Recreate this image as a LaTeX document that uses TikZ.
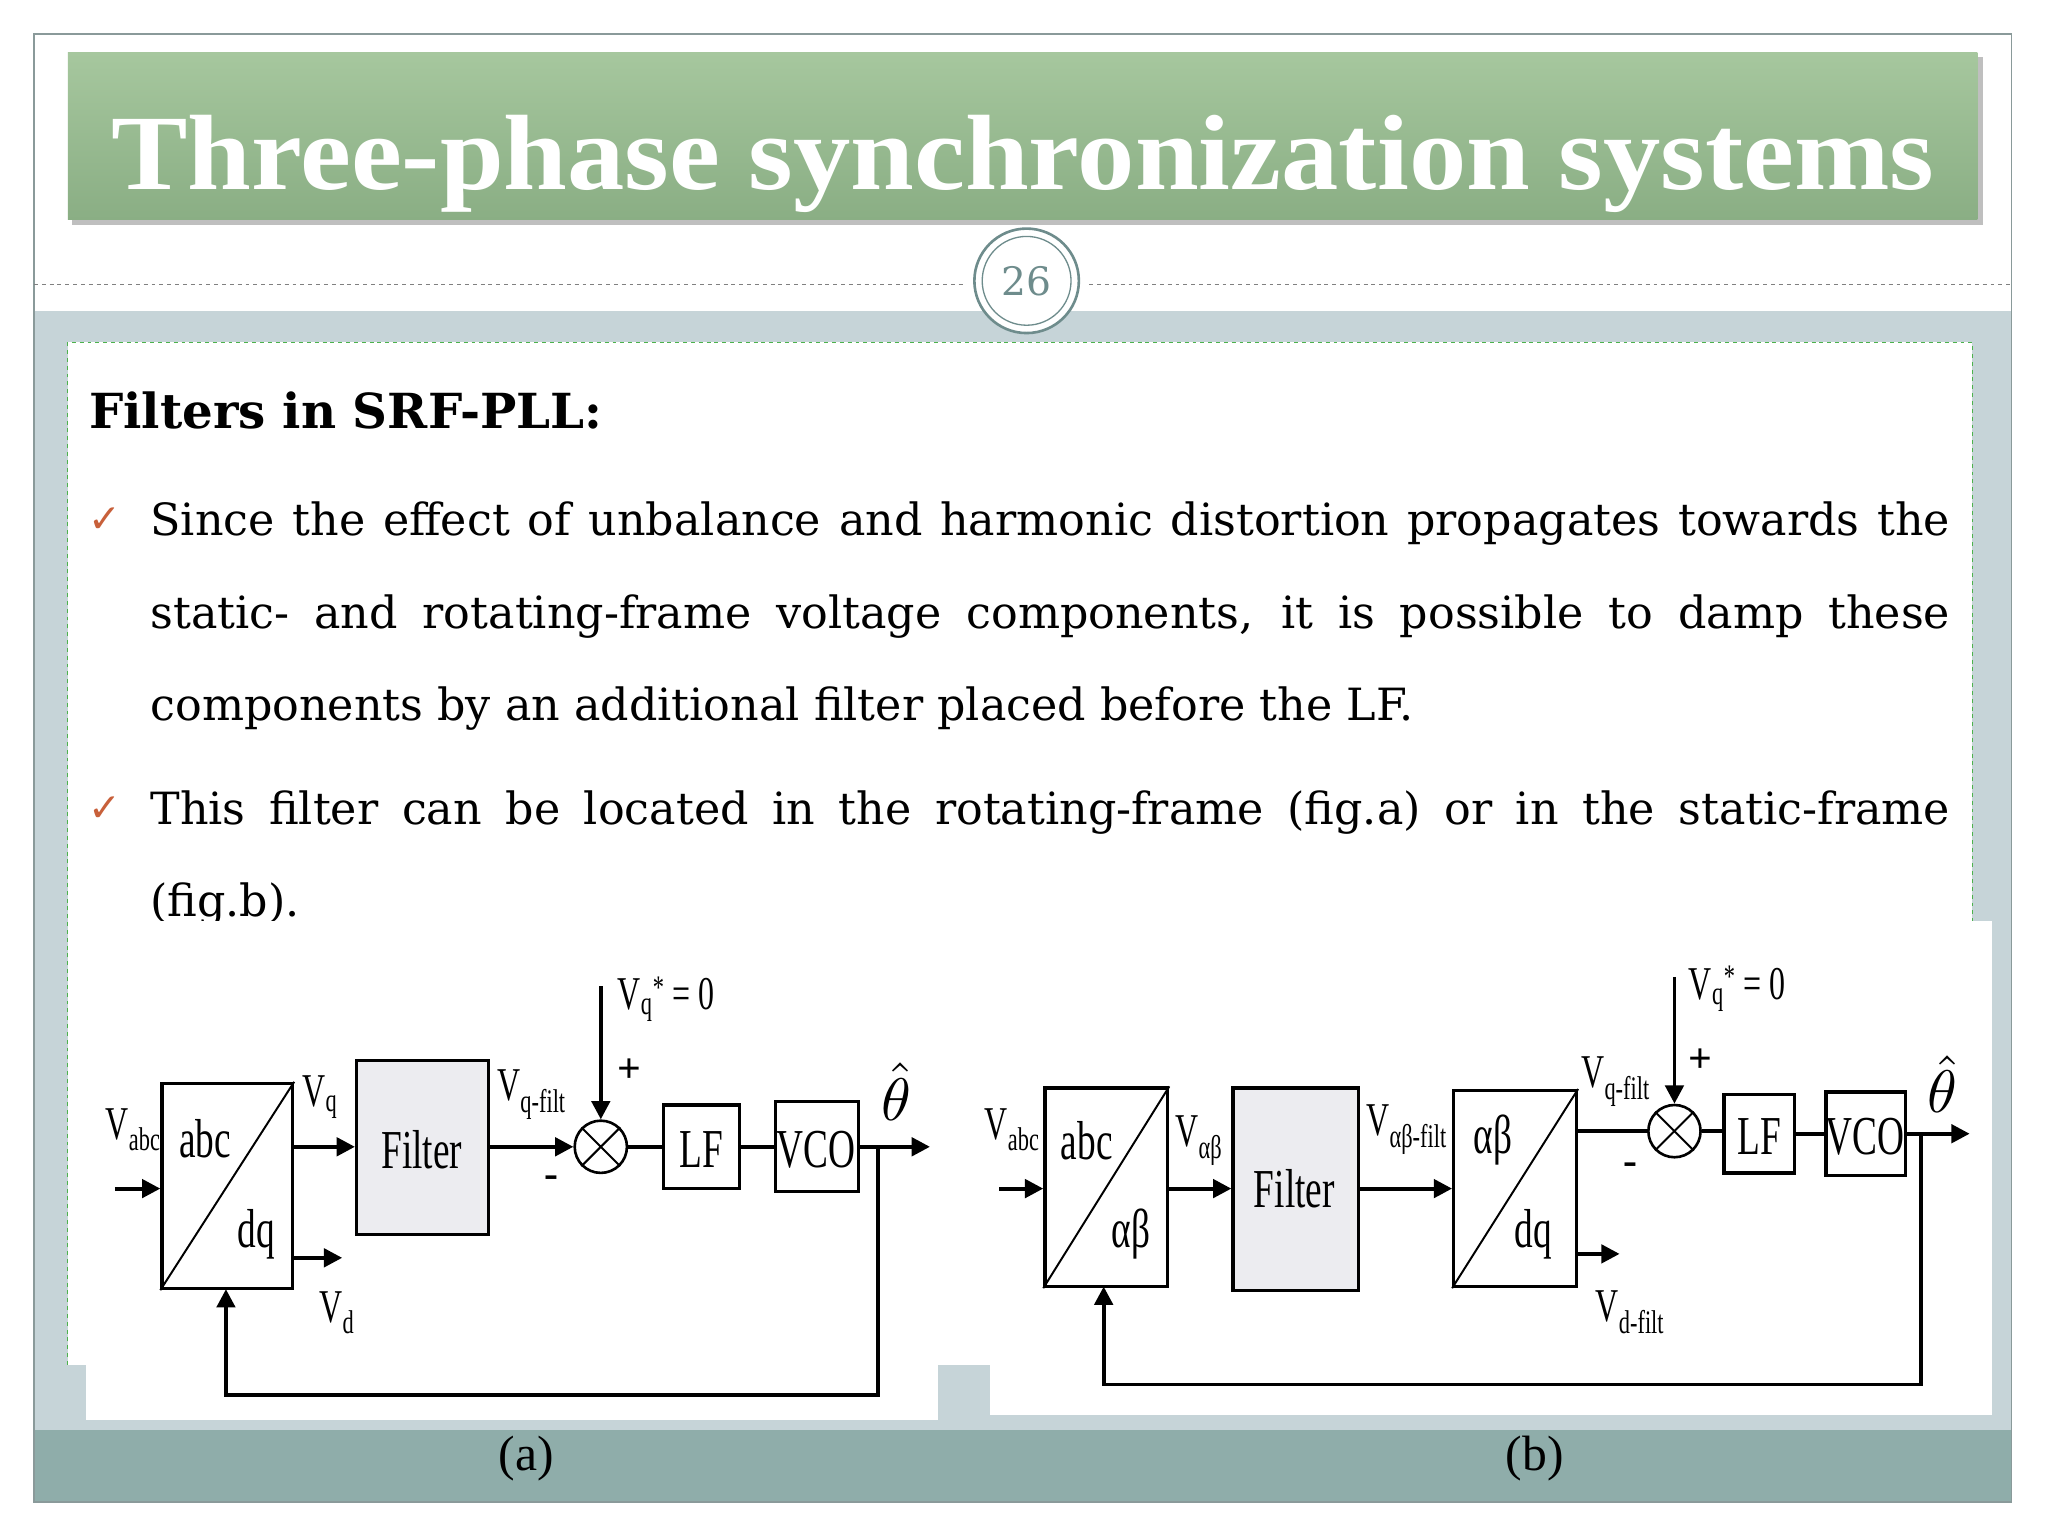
\documentclass[tikz,border=0pt]{standalone}
\usepackage{fontspec}
\usepackage{graphicx}
\setmainfont{Liberation Serif}
\newfontfamily\cond[FakeStretch=0.68]{Liberation Serif}
\newfontfamily\bodyf{DejaVu Serif}
\newfontfamily\titlef[FakeStretch=1.07]{Liberation Serif}
\usetikzlibrary{arrows.meta,calc}
\definecolor{band}{HTML}{C6D4D8}
\definecolor{bottomband}{HTML}{8FADAA}
\definecolor{frame}{HTML}{8A9A9A}
\definecolor{gtop}{HTML}{A6C79E}
\definecolor{gbot}{HTML}{8AAE84}
\definecolor{chk}{HTML}{C8603A}
\definecolor{numc}{HTML}{6E8C8C}
\definecolor{filt}{HTML}{ECECF0}
\tikzset{
  blk/.style={draw,line width=2.5pt,minimum width=#1,inner sep=0pt},
  dlab/.style={font=\cond\fontsize{42}{42}\selectfont,inner sep=0pt},
  slab/.style={font=\cond\fontsize{36}{36}\selectfont,inner sep=0pt},
  sig/.style={line width=3pt,-{Triangle[length=14pt,width=14pt]}},
  wire/.style={line width=3pt},
  bodytxt/.style={anchor=base west,inner sep=0pt,font=\bodyf\fontsize{34}{34}\selectfont},
  chkm/.style={anchor=base,inner sep=0pt,text=chk,font=\fontsize{30}{30}\selectfont},
  thlab/.style={inner sep=0pt}
}
\begin{document}
\begin{tikzpicture}[x=1pt,y=-1pt]
\useasboundingbox (0,0) rectangle (1568,1176);
\fill[white] (0,0) rectangle (1568,1176);
% frame and bands
\fill[band] (26,238) rectangle (1540,1150);
\fill[bottomband] (26,1095) rectangle (1540,1150);
\draw[frame,line width=1pt] (26,26) rectangle (1540,1150);
\fill[white] (52,262) rectangle (1510,1045);
\draw[green!40!gray,dashed,line width=0.8pt] (52,1045) -- (52,262) -- (1510,262) -- (1510,705);
\draw[gray,dashed,line width=0.8pt] (26,218) -- (738,218) (834,218) -- (1540,218);
% title banner
\fill[black!25] (55,44) rectangle (1518,172);
\shade[top color=gtop,bottom color=gbot] (52,40) rectangle (1514,168);
\node[anchor=base,text=white,inner sep=0pt,font=\titlef\bfseries\fontsize{82}{82}\selectfont] (title) at (783,145) {Three-phase synchronization systems};
% page number
\node[circle,draw=numc,line width=2pt,fill=white,minimum size=80pt,inner sep=0pt] (pgc) at (786,215) {};
\node[circle,draw=numc,line width=1pt,minimum size=68pt,inner sep=0pt,text=numc,font=\bodyf\fontsize{30}{30}\selectfont] (pg) at (786,215) {26};
% heading and bullets
\node[anchor=base west,inner sep=0pt,font=\bodyf\bfseries\fontsize{37}{37}\selectfont] (head) at (68,328) {Filters in SRF-PLL:};
\node[chkm] (c1) at (80,408) {\fontspec{DejaVu Sans}✓};
\node[chkm] (c2) at (80,629) {\fontspec{DejaVu Sans}✓};
\node[bodytxt] (l1) at (115,410) {\makebox[1378pt][s]{Since the effect of unbalance and harmonic distortion propagates towards the}};
\node[bodytxt] (l2) at (115,481) {\makebox[1378pt][s]{static- and rotating-frame voltage components, it is possible to damp these}};
\node[bodytxt] (l3) at (115,552) {components by an additional filter placed before the LF.};
\node[bodytxt] (l4) at (115,631) {\makebox[1378pt][s]{This filter can be located in the rotating-frame (fig.a) or in the static-frame}};
\node[bodytxt] (l5) at (115,702) {(fig.b).};
% image panels
\fill[white] (66,705) rectangle (718,1087);
\fill[white] (758,705) rectangle (1525,1083);
% ---------- diagram (a)
\node[blk=100pt,minimum height=157pt] (a1) at (174,908) {};
\draw[line width=1.5pt] (a1.south west) -- (a1.north east);
\node[dlab] at (157,872) {abc};
\node[dlab] at (196,945) {dq};
\node[blk=101pt,minimum height=133pt,fill=filt] (af) at (323.5,878.5) {};
\node[dlab] at (323,880) {Filter};
\node[circle,draw,line width=2pt,minimum size=40pt,inner sep=0pt] (as) at (460,878) {};
\draw[line width=1.5pt] (as.north west) -- (as.south east) (as.north east) -- (as.south west);
\node[blk=58pt,minimum height=64pt] (alf) at (537,878) {};
\node[dlab] at (537,880) {LF};
\node[blk=63pt,minimum height=69pt] (avco) at (625.5,878) {};
\node[dlab] at (625,880) {VCO};
\coordinate (ain) at (88,910);
\coordinate (aout) at (712,878);
\coordinate (aref) at (460,755);
\coordinate (avd) at (262,963);
\draw[sig] (ain) -- (ain -| a1.west);
\draw[sig] (a1.east |- 0,878) -- (af.west |- 0,878);
\draw[sig] (a1.east |- avd) -- (avd);
\draw[sig] (af.east |- as) -- (as.west);
\draw[sig] (aref) -- (as.north);
\draw[wire] (as.east) -- (alf.west);
\draw[wire] (alf.east) -- (avco.west);
\draw[sig] (avco.east) -- (aout);
\draw[sig] (672,878) -- (672,1068) -- (173,1068) -- (173,987);
\node[slab] at (102,865) {V\textsubscript{abc}};
\node[slab] at (245,840) {V\textsubscript{q}};
\node[slab] at (258,1005) {V\textsubscript{d}};
\node[slab] at (407,838) {V\textsubscript{q-filt}};
\node[slab] at (510,765) {V\textsubscript{q}\textsuperscript{*}\,=\,0};
\node[font=\bfseries\fontsize{32}{32}\selectfont,inner sep=0pt] at (482,820) {+};
\node[font=\bfseries\fontsize{32}{32}\selectfont,inner sep=0pt] at (422,905) {-};
\node[thlab] (tha) at (686,836) {\scalebox{4.6}{$\hat{\theta}$}};
% ---------- diagram (b)
\node[blk=94pt,minimum height=152pt] (b1) at (847,909) {};
\draw[line width=1.5pt] (b1.south west) -- (b1.north east);
\node[dlab] at (832,873) {abc};
\node[dlab] at (866,945) {αβ};
\node[blk=96pt,minimum height=155pt,fill=filt] (bf) at (992,910.5) {};
\node[dlab] at (991,910) {Filter};
\node[blk=94pt,minimum height=150pt] (b2) at (1160,910) {};
\draw[line width=1.5pt] (b2.south west) -- (b2.north east);
\node[dlab] at (1143,873) {αβ};
\node[dlab] at (1174,945) {dq};
\node[circle,draw,line width=2pt,minimum size=40pt,inner sep=0pt] (bs) at (1282,866) {};
\draw[line width=1.5pt] (bs.north west) -- (bs.south east) (bs.north east) -- (bs.south west);
\node[blk=54pt,minimum height=60pt] (blf) at (1347,868) {};
\node[dlab] at (1347,870) {LF};
\node[blk=61pt,minimum height=64pt] (bvco) at (1428.5,868) {};
\node[dlab] at (1428,870) {VCO};
\coordinate (bin) at (765,910);
\coordinate (bout) at (1508,868);
\coordinate (bref) at (1282,748);
\coordinate (bvd) at (1240,960);
\draw[sig] (bin) -- (bin -| b1.west);
\draw[sig] (b1.east |- 0,910) -- (bf.west |- 0,910);
\draw[sig] (bf.east |- 0,910) -- (b2.west |- 0,910);
\draw[wire] (b2.east |- 0,866) -- (bs.west);
\draw[sig] (b2.east |- bvd) -- (bvd);
\draw[sig] (bref) -- (bs.north);
\draw[wire] (bs.east) -- (blf.west |- bs.east);
\draw[wire] (blf.east) -- (bvco.west);
\draw[sig] (bvco.east) -- (bout);
\draw[sig] (1471,868) -- (1471,1060) -- (845,1060) -- (845,985);
\node[slab] at (775,865) {V\textsubscript{abc}};
\node[slab] at (918,873) {V\textsubscript{αβ}};
\node[slab] at (1077,865) {V\textsubscript{αβ-filt}};
\node[slab] at (1237,828) {V\textsubscript{q-filt}};
\node[slab] at (1248,1005) {V\textsubscript{d-filt}};
\node[slab] at (1330,757) {V\textsubscript{q}\textsuperscript{*}\,=\,0};
\node[font=\bfseries\fontsize{32}{32}\selectfont,inner sep=0pt] at (1302,812) {+};
\node[font=\bfseries\fontsize{32}{32}\selectfont,inner sep=0pt] at (1248,895) {-};
\node[thlab] (thb) at (1487,830) {\scalebox{4.6}{$\hat{\theta}$}};
% captions
\node[font=\fontsize{38}{38}\selectfont,inner sep=0pt] (capa) at (403,1117) {(a)};
\node[font=\fontsize{38}{38}\selectfont,inner sep=0pt] (capb) at (1175,1117) {(b)};
\end{tikzpicture}
\end{document}
